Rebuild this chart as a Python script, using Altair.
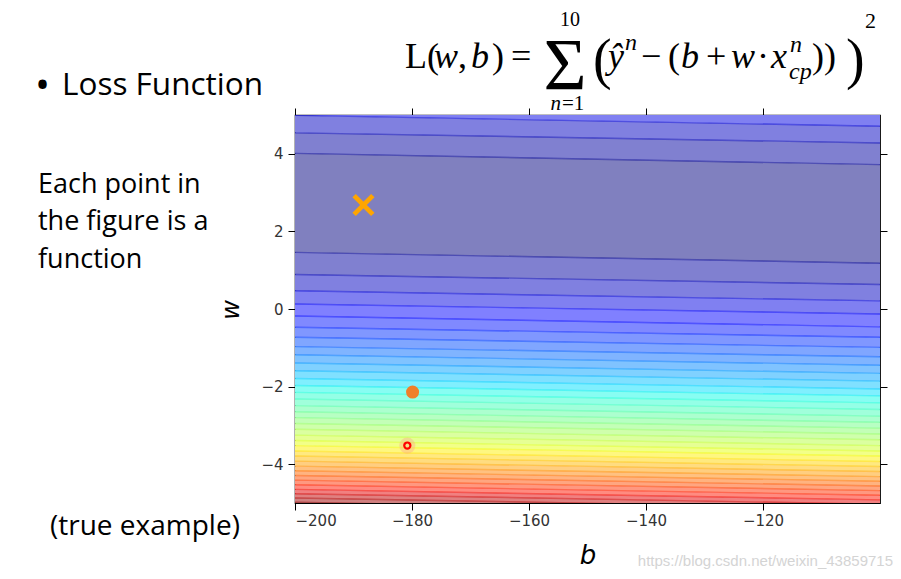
import altair as alt
import pandas as pd

# ---------------- data ----------------
b_span = [-200, -100]                      # left / right edge of the plot (b)
# w-position of each contour line at the left edge (b=-200) and right edge (b=-100)
# lines below the valley, from the valley outwards
below_left = [1.46, 0.89, 0.47, 0.13, -0.18, -0.47, -0.73, -0.97, -1.18, -1.39,
              -1.59, -1.79, -1.97, -2.15, -2.32, -2.49, -2.65, -2.80, -2.95, -3.10,
              -3.25, -3.39, -3.52, -3.66, -3.79, -3.92, -4.05, -4.17, -4.29, -4.41,
              -4.53, -4.65, -4.76, -4.87, -4.98, -5.09]
below_right = [1.18, 0.63, 0.21, -0.13, -0.46, -0.73, -0.99, -1.23, -1.45, -1.66,
               -1.86, -2.06, -2.24, -2.42, -2.59, -2.76, -2.92, -3.07, -3.22, -3.37,
               -3.52, -3.66, -3.79, -3.93, -4.06, -4.19, -4.32, -4.44, -4.56, -4.68,
               -4.80, -4.92, -5.03, -5.14, -5.25, -5.36]
# lines above the valley
above_left = [4.01, 4.54, 4.99, 5.34]
above_right = [3.72, 4.28, 4.71, 5.07]

x_ticks = [-200, -180, -160, -140, -120]
y_ticks = [-4, -2, 0, 2, 4]

best_b, best_w = [-188.3], [2.68]          # orange cross
dot_b, dot_w = [-179.9], [-2.14]           # orange dot
ring_b, ring_w = [-180.8], [-3.52]         # small red ring

n_levels = 35

# ---------------- styling helpers ----------------
def jet(v):
    def interp(pts, v):
        for (x0, y0), (x1, y1) in zip(pts, pts[1:]):
            if x0 <= v <= x1:
                return y0 + (y1 - y0) * (v - x0) / (x1 - x0)
        return pts[-1][1]
    r = interp([(0, 0), (0.35, 0), (0.66, 1), (0.89, 1), (1, 0.5)], v)
    g = interp([(0, 0), (0.125, 0), (0.375, 1), (0.64, 1), (0.91, 0), (1, 0)], v)
    b = interp([(0, 0.5), (0.11, 1), (0.34, 1), (0.65, 0), (1, 0)], v)
    return r, g, b


def to_hex(rgb, alpha=1.0):
    vals = [round(255 * (1 - alpha) + 255 * alpha * c) for c in rgb]
    return "#%02x%02x%02x" % tuple(vals)


# ---------------- tables ----------------
band_rows = []
def add_piece(band, piece, lo_l, lo_r, hi_l, hi_r):
    for b, lo, hi in zip(b_span, (lo_l, lo_r), (hi_l, hi_r)):
        band_rows.append({"band": band, "piece": piece, "b": b, "lo": lo, "hi": hi})

add_piece(0, "p0", below_left[0], below_right[0], above_left[0], above_right[0])
for j in range(1, len(below_left)):
    add_piece(j, "l%d" % j, below_left[j], below_right[j], below_left[j - 1], below_right[j - 1])
    if j < len(above_left):
        add_piece(j, "u%d" % j, above_left[j - 1], above_right[j - 1], above_left[j], above_right[j])
band_df = pd.DataFrame(band_rows)
band_ids = list(range(len(below_left)))
band_colors = [to_hex(jet(min(j / n_levels, 1.0)), 0.5) for j in band_ids]

line_rows, line_ids, line_colors = [], [], []
for k in range(len(below_left)):
    lid = "b%d" % k
    line_ids.append(lid)
    line_colors.append(to_hex(jet(min((k + 0.5) / n_levels, 1.0))))
    for b, w in zip(b_span, (below_left[k], below_right[k])):
        line_rows.append({"lid": lid, "b": b, "w": w})
for k in range(len(above_left)):
    lid = "a%d" % k
    line_ids.append(lid)
    line_colors.append(to_hex(jet((k + 0.5) / n_levels)))
    for b, w in zip(b_span, (above_left[k], above_right[k])):
        line_rows.append({"lid": lid, "b": b, "w": w})
line_df = pd.DataFrame(line_rows)

# ---------------- chart ----------------
OX, OY = 295, 115   # page position of the plot's top-left corner
XS = alt.Scale(domain=[-200, -100], nice=False, zero=False)
YS = alt.Scale(domain=[-5, 5], nice=False, zero=False)
axc = dict(grid=False, domain=False, ticks=True, tickSize=7, tickColor="black",
           tickWidth=1, labelFont="DejaVu Sans", labelFontSize=15,
           labelColor="#333333", title=None)

bands = alt.Chart(band_df).mark_area(clip=True, strokeWidth=0).encode(
    x=alt.X("b:Q", scale=XS, axis=alt.Axis(values=x_ticks, orient="bottom", labelPadding=3, **axc)),
    y=alt.Y("lo:Q", scale=YS, stack=None,
            axis=alt.Axis(values=y_ticks, orient="left", labelPadding=5, **axc)),
    y2="hi:Q",
    color=alt.Color("band:O", scale=alt.Scale(domain=band_ids, range=band_colors), legend=None),
    detail="piece:N",
)

lines = alt.Chart(line_df).mark_line(clip=True, strokeWidth=1.4, opacity=0.5).encode(
    x=alt.X("b:Q", scale=XS, axis=alt.Axis(values=x_ticks, orient="top", labels=False, **axc)),
    y=alt.Y("w:Q", scale=YS, axis=alt.Axis(values=y_ticks, orient="right", labels=False, **axc)),
    color=alt.Color("lid:N", scale=alt.Scale(domain=line_ids, range=line_colors), legend=None),
    detail="lid:N",
)

def pts(bs, ws):
    return alt.Chart(pd.DataFrame({"b": bs, "w": ws}))

def enc(c):
    return c.encode(x=alt.X("b:Q", scale=XS, axis=None), y=alt.Y("w:Q", scale=YS, axis=None))

cross = enc(pts(best_b, best_w).mark_point(
    shape="M-1,-1L1,1M-1,1L1,-1", size=350, filled=False, stroke="#FFA500",
    strokeWidth=4.8, opacity=1))
dot = enc(pts(dot_b, dot_w).mark_circle(size=170, color="#F07F2A", opacity=1))
halo = enc(pts(ring_b, ring_w).mark_circle(size=260, color="#ff9a8c", opacity=0.35))
ring = enc(pts(ring_b, ring_w).mark_point(size=38, filled=False, stroke="#ff0000",
                                          strokeWidth=2.2, opacity=1))


def txt(text, x, y, size, font="Open Sans", style="normal", align="left",
        baseline="alphabetic", color="black", angle=0):
    return alt.Chart(pd.DataFrame({"t": [text]})).mark_text(
        align=align, baseline=baseline, font=font, fontSize=size, fontStyle=style,
        color=color, angle=angle).encode(x=alt.value(x - OX), y=alt.value(y - OY), text="t:N")


SERIF = "Liberation Serif"
texts = [
    txt("\u2022", 35, 99, 40),
    txt("Loss Function", 62, 95, 31.5),
    txt("Each point in", 38, 193, 27),
    txt("the figure is a", 38, 230, 27),
    txt("function", 38, 268, 27),
    txt("(true example)", 50, 535, 28),
    txt("https://blog.csdn.net/weixin_43859715", 893, 566, 15, font="Liberation Sans",
        align="right", color="#d4d4d4"),
    txt("w", 232, 310, 24, font="DejaVu Sans", style="italic", align="center",
        baseline="middle", angle=270),
    txt("b", 588, 556, 26, font="DejaVu Sans", style="italic", align="center",
        baseline="middle"),
    # formula
    txt("L(", 405, 68, 36, font=SERIF),
    txt("w", 434, 68, 36, font=SERIF, style="italic"),
    txt(",", 458, 68, 36, font=SERIF),
    txt("b", 471, 68, 36, font=SERIF, style="italic"),
    txt(")", 492, 68, 36, font=SERIF),
    txt("=", 511, 68, 36, font=SERIF),
    txt("\u03a3", 565, 90, 74, font=SERIF, align="center"),
    txt("10", 570, 26, 20, font=SERIF, align="center"),
    txt("n", 561, 110, 21, font=SERIF, style="italic", align="right"),
    txt("=1", 562, 110, 21, font=SERIF),
    txt("(", 593, 78, 56, font=SERIF),
    txt("\u0177", 608, 68, 36, font=SERIF, style="italic"),
    txt("n", 625, 50, 24, font=SERIF, style="italic"),
    txt("\u2212", 641, 68, 36, font=SERIF),
    txt("(", 668, 68, 36, font=SERIF),
    txt("b", 681, 68, 36, font=SERIF, style="italic"),
    txt("+", 706, 68, 36, font=SERIF),
    txt("w", 731, 68, 36, font=SERIF, style="italic"),
    txt("\u00b7", 757, 68, 36, font=SERIF),
    txt("x", 771, 68, 36, font=SERIF, style="italic"),
    txt("n", 790, 52, 24, font=SERIF, style="italic"),
    txt("cp", 789, 79, 24, font=SERIF, style="italic"),
    txt("))", 812, 68, 36, font=SERIF),
    txt(")", 846, 78, 56, font=SERIF),
    txt("2", 865, 28, 22, font=SERIF),
]

chart = alt.layer(bands, lines, cross, dot, halo, ring, *texts).resolve_scale(
    color="independent"
).resolve_axis(x="independent", y="independent").properties(
    width=585, height=388,
    autosize=alt.AutoSizeParams(type="none"),
    padding={"left": 287, "top": 107, "right": 13, "bottom": 68},
    background="white",
).configure_view(stroke="black", strokeWidth=1.2)

chart.save("out.html", embed_options={"renderer": "svg", "actions": False})
